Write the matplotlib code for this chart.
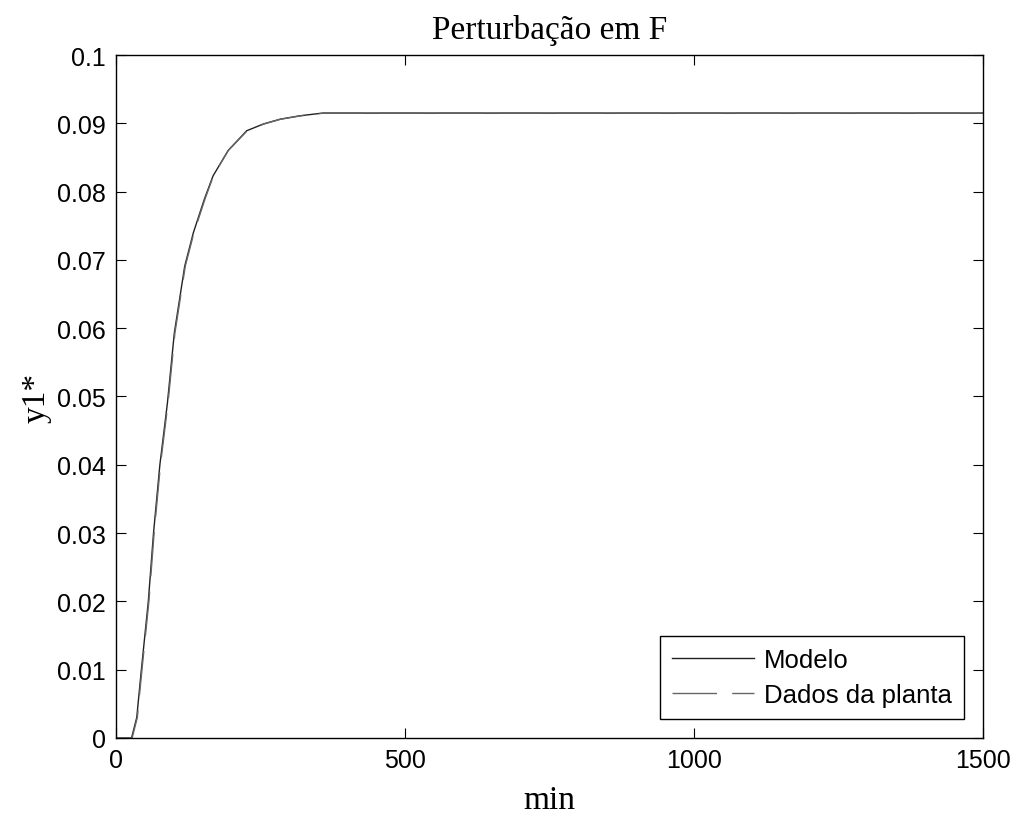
import numpy as np
import matplotlib
matplotlib.use("Agg")
import matplotlib.pyplot as plt

# step response (min, y1*)
t_modelo = [0, 27, 36, 44, 56, 65, 76, 89, 101, 119, 134, 153, 168, 194, 226, 255, 284, 318, 358, 1500]
y_modelo = [0, 0, 0.003, 0.01, 0.02, 0.03, 0.04, 0.049, 0.0593, 0.0691, 0.074, 0.0789, 0.0823,
            0.0860, 0.0889, 0.0899, 0.0906, 0.0911, 0.0915, 0.0915]

t_planta = [0, 28, 37, 45, 57, 66, 77, 90, 102, 120, 135, 154, 169, 195, 227, 256, 285, 320, 360, 1500]
y_planta = [0, 0, 0.003, 0.01, 0.02, 0.03, 0.04, 0.049, 0.0593, 0.0691, 0.074, 0.0789, 0.0824,
            0.0861, 0.0889, 0.0899, 0.0906, 0.0911, 0.0915, 0.0915]

xticks = [0, 500, 1000, 1500]
yticks = [0, 0.01, 0.02, 0.03, 0.04, 0.05, 0.06, 0.07, 0.08, 0.09, 0.1]
ytick_labels = ['0', '0.01', '0.02', '0.03', '0.04', '0.05', '0.06', '0.07', '0.08', '0.09', '0.1']

fig = plt.figure(figsize=(10.17, 8.2), dpi=100)
ax = fig.add_axes([0.114, 0.0988, 0.8526, 0.8329])

ax.plot(t_modelo, y_modelo, color='#222222', lw=1.0, label='Modelo')
ax.plot(t_planta, y_planta, color='#666666', lw=1.0, dashes=(32, 11), label='Dados da planta')

ax.set_xlim(0, 1500)
ax.set_ylim(0, 0.1)
ax.set_xticks(xticks)
ax.set_xticklabels([str(v) for v in xticks])
ax.set_yticks(yticks)
ax.set_yticklabels(ytick_labels)

ax.tick_params(direction='in', length=7, width=0.8, top=True, right=True,
               labelsize=18, pad=7)
for lab in ax.get_xticklabels() + ax.get_yticklabels():
    lab.set_family('Liberation Sans')
for s in ax.spines.values():
    s.set_linewidth(1.0)

ax.set_title('Perturbação em F', family='Liberation Serif', fontsize=24, pad=12)
ax.set_xlabel('min', family='Liberation Serif', fontsize=24, labelpad=9)
ax.set_ylabel('y1*', family='Liberation Serif', fontsize=24, labelpad=4)

leg = ax.legend(loc='lower right', prop={'family': 'Liberation Sans', 'size': 18.5},
                fancybox=False, framealpha=1, edgecolor='black', handlelength=3.2,
                handletextpad=0.4, borderaxespad=0.75, borderpad=0.45, labelspacing=0.45)
leg.get_frame().set_linewidth(1.0)

fig.savefig('out.png', dpi=100)
